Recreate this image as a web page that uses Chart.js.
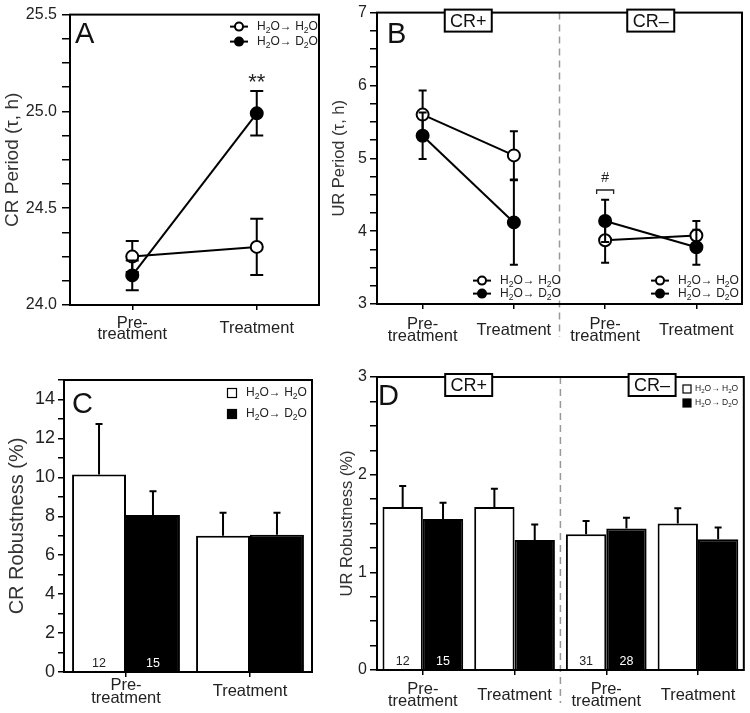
<!DOCTYPE html>
<html>
<head>
<meta charset="utf-8">
<script src="https://cdn.jsdelivr.net/npm/chart.js@4.4.1/dist/chart.umd.min.js"></script>
<style>
  body { margin: 0; background: #fff; }
  #wrap { position: relative; width: 750px; height: 713px; overflow: hidden; background: #fff; }
  canvas { position: absolute; }
</style>
</head>
<body>
<div id="wrap">
  <canvas id="chartA" width="375" height="355" style="left:0;top:0;width:375px;height:355px"></canvas>
  <canvas id="chartB" width="425" height="355" style="left:325px;top:0;width:425px;height:355px"></canvas>
  <canvas id="chartC" width="375" height="353" style="left:0;top:360px;width:375px;height:353px"></canvas>
  <canvas id="chartD" width="425" height="353" style="left:325px;top:360px;width:425px;height:353px"></canvas>
</div>
<script>
// categories / series names
const twoLabels = [['Pre-', 'treatment'], 'Treatment'];
const fourLabels = [['Pre-', 'treatment'], 'Treatment', ['Pre-', 'treatment'], 'Treatment'];
const seriesNames = ['H_2O→ H_2O', 'H_2O→ D_2O'];

// A: CR period (h)
const crPeriodH2O = [24.25, 24.30];
const crPeriodH2OErr = [0.08, 0.145];
const crPeriodD2O = [24.153, 24.99];
const crPeriodD2OErr = [0.077, 0.115];

// B: UR period (h), CR+ pre/treat, CR- pre/treat
const urPeriodH2O = [5.60, 5.04, 3.875, 3.94];
const urPeriodH2OErr = [0.33, 0.33, 0.31, 0.20];
const urPeriodD2O = [5.31, 4.12, 4.14, 3.78];
const urPeriodD2OErr = [0.32, 0.58, 0.29, 0.24];

// C: CR robustness (%)
const crRobH2O = [10.14, 7.0];
const crRobH2OErr = [2.6, 1.18];
const crRobD2O = [8.07, 7.05];
const crRobD2OErr = [1.21, 1.13];
const crRobNH2O = [12, null];
const crRobND2O = [15, null];

// D: UR robustness (%)
const urRobH2O = [1.67, 1.67, 1.39, 1.50];
const urRobH2OErr = [0.215, 0.185, 0.135, 0.157];
const urRobD2O = [1.545, 1.33, 1.45, 1.34];
const urRobD2OErr = [0.167, 0.16, 0.11, 0.12];
const urRobNH2O = [12, null, 31, null];
const urRobND2O = [15, null, 28, null];

const FONT = '"Liberation Sans", Arial, Helvetica, sans-serif';
const INK = '#000';
Chart.defaults.font.family = FONT;
Chart.defaults.color = '#222';
Chart.defaults.animation = false;

function isStep(v, every) {
    const r = v / every;
    return Math.abs(r - Math.round(r)) < 1e-6;
}

function yAxis(o) {
    return {
        min: o.min,
        max: o.max,
        border: { display: false },
        grid: { display: true, drawOnChartArea: false, drawTicks: true, tickLength: o.tickLen, color: INK, lineWidth: 1.5 },
        ticks: {
            stepSize: o.step,
            autoSkip: false,
            padding: o.pad,
            color: '#222',
            font: { size: o.tickSize },
            callback: v => isStep(v, o.every) ? v.toFixed(o.dec) : ''
        },
        title: { display: true, text: o.title, color: '#333', font: { size: o.titleSize }, padding: { top: o.titlePad, bottom: 0 } },
        afterFit: s => { s.width = o.width; }
    };
}

function xAxis(o) {
    return {
        offset: true,
        border: { display: false },
        grid: { display: true, drawOnChartArea: false, drawTicks: true, tickLength: 5, color: INK, lineWidth: 1.5, offset: false },
        ticks: { autoSkip: false, maxRotation: 0, padding: o.pad, crossAlign: 'center', color: '#222', font: { size: 16.5, lineHeight: o.lh } },
        afterFit: s => { s.height = o.height; }
    };
}

function lineSet(label, data, errors, fill, order, breakAfter) {
    return {
        label, data, errors, order,
        borderColor: INK, borderWidth: 2, backgroundColor: fill,
        pointRadius: 6, pointBorderWidth: 2, pointBackgroundColor: fill, pointBorderColor: INK,
        tension: 0,
        segment: { borderColor: c => c.p0DataIndex === breakAfter ? 'rgba(0,0,0,0)' : INK }
    };
}

function barSet(label, data, errors, counts, fill, countColor, pct) {
    return {
        label, data, errors, counts, countColor,
        backgroundColor: fill, borderColor: INK, borderWidth: 2, borderSkipped: 'start',
        barPercentage: 1, categoryPercentage: pct
    };
}

// error bars: both ways for points, upward only for bars
function drawErrors(chart, index, cap, upOnly) {
    const ds = chart.data.datasets[index];
    if (!ds.errors) return;
    const meta = chart.getDatasetMeta(index);
    const y = chart.scales.y;
    const ctx = chart.ctx;
    ctx.save();
    ctx.strokeStyle = INK;
    ctx.lineWidth = 2;
    ds.data.forEach((v, i) => {
        const e = ds.errors[i];
        if (v == null || e == null) return;
        const x = meta.data[i].x;
        const yTop = y.getPixelForValue(v + e);
        const yBot = y.getPixelForValue(upOnly ? v : v - e);
        ctx.beginPath();
        ctx.moveTo(x, yBot);
        ctx.lineTo(x, yTop);
        ctx.moveTo(x - cap / 2, yTop);
        ctx.lineTo(x + cap / 2, yTop);
        if (!upOnly) {
            ctx.moveTo(x - cap / 2, yBot);
            ctx.lineTo(x + cap / 2, yBot);
        }
        ctx.stroke();
    });
    ctx.restore();
}

const errorBars = {
    id: 'errorBars',
    beforeDatasetDraw(chart, args, opts) {
        if (chart.config.type === 'line') drawErrors(chart, args.index, opts.cap, false);
    },
    afterDatasetDraw(chart, args, opts) {
        if (chart.config.type === 'bar') drawErrors(chart, args.index, opts.cap, true);
    }
};

// text with "_" marking a subscript character
function richText(ctx, str, x, y, size) {
    let cx = x;
    ctx.textAlign = 'left';
    ctx.textBaseline = 'middle';
    for (let i = 0; i < str.length; i++) {
        let ch = str[i];
        let sub = false;
        if (ch === '_') { ch = str[++i]; sub = true; }
        ctx.font = (sub ? size * 0.72 : size) + 'px ' + FONT;
        ctx.fillText(ch, cx, y + (sub ? size * 0.3 : 0));
        cx += ctx.measureText(ch).width;
    }
}

const deco = {
    id: 'deco',
    afterDraw(chart, args, o) {
        const { ctx, chartArea: a } = chart;
        const x = chart.scales.x, y = chart.scales.y;
        ctx.save();

        // dashed divider between CR+ and CR-
        if (o.divider) {
            const dx = (x.getPixelForValue(1) + x.getPixelForValue(2)) / 2;
            ctx.strokeStyle = '#999';
            ctx.lineWidth = 1.5;
            ctx.setLineDash([7, 5]);
            ctx.beginPath();
            ctx.moveTo(dx, a.top);
            ctx.lineTo(dx, a.bottom + o.divider);
            ctx.stroke();
            ctx.setLineDash([]);
        }

        // frame
        ctx.strokeStyle = INK;
        ctx.lineWidth = 2;
        ctx.strokeRect(a.left, a.top, a.right - a.left, a.bottom - a.top);

        // group boxes
        (o.groups || []).forEach(g => {
            const cx = (x.getPixelForValue(g.from) + x.getPixelForValue(g.to)) / 2;
            const w = 47, h = 22, top = a.top - 3;
            ctx.fillStyle = '#fff';
            ctx.fillRect(cx - w / 2, top, w, h);
            ctx.strokeStyle = INK;
            ctx.lineWidth = 2;
            ctx.strokeRect(cx - w / 2, top, w, h);
            ctx.fillStyle = '#111';
            ctx.font = '18px ' + FONT;
            ctx.textAlign = 'center';
            ctx.textBaseline = 'middle';
            ctx.fillText(g.label, cx, top + h / 2 + 1);
        });

        // panel letter
        ctx.fillStyle = '#111';
        ctx.font = '29px ' + FONT;
        ctx.textAlign = 'left';
        ctx.textBaseline = 'alphabetic';
        ctx.fillText(o.letter, a.left + o.letterAt[0], a.top + o.letterAt[1]);

        // legends
        const L = o.legend;
        L.spots.forEach(([lx, ly]) => {
            seriesNames.forEach((name, k) => {
                const mx = a.left + lx, my = a.top + ly + k * L.gap;
                const fill = k === 0 ? '#fff' : '#000';
                ctx.strokeStyle = INK;
                if (L.kind === 'line') {
                    ctx.lineWidth = 2;
                    ctx.beginPath();
                    ctx.moveTo(mx - 9, my);
                    ctx.lineTo(mx + 9, my);
                    ctx.stroke();
                    ctx.beginPath();
                    ctx.arc(mx, my, 4, 0, Math.PI * 2);
                    ctx.fillStyle = fill;
                    ctx.fill();
                    ctx.stroke();
                } else {
                    ctx.lineWidth = 1.2;
                    ctx.fillStyle = fill;
                    ctx.fillRect(mx - L.box / 2, my - L.box / 2, L.box, L.box);
                    ctx.strokeRect(mx - L.box / 2, my - L.box / 2, L.box, L.box);
                }
                ctx.fillStyle = '#222';
                richText(ctx, name, mx + L.textDx, my, L.size);
            });
        });

        // significance marks
        (o.notes || []).forEach(n => {
            const px = x.getPixelForValue(n.x), py = y.getPixelForValue(n.y);
            ctx.fillStyle = '#222';
            ctx.font = n.size + 'px ' + FONT;
            ctx.textAlign = 'center';
            ctx.textBaseline = 'middle';
            ctx.fillText(n.text, px, py);
            if (n.bracket) {
                const by = y.getPixelForValue(n.bracket);
                ctx.strokeStyle = '#222';
                ctx.lineWidth = 1.3;
                ctx.beginPath();
                ctx.moveTo(px - 8.5, by + 4);
                ctx.lineTo(px - 8.5, by);
                ctx.lineTo(px + 8.5, by);
                ctx.lineTo(px + 8.5, by + 4);
                ctx.stroke();
            }
        });

        // sample sizes inside bars
        chart.data.datasets.forEach((ds, di) => {
            if (!ds.counts) return;
            const meta = chart.getDatasetMeta(di);
            ds.counts.forEach((n, i) => {
                if (n == null) return;
                ctx.fillStyle = ds.countColor;
                ctx.font = '12.5px ' + FONT;
                ctx.textAlign = 'center';
                ctx.textBaseline = 'middle';
                ctx.fillText(String(n), meta.data[i].x, a.bottom - 8);
            });
        });

        ctx.restore();
    }
};

function baseOptions(padding, scales, errCap, decoOpts) {
    return {
        responsive: false,
        animation: false,
        layout: { padding },
        scales,
        plugins: {
            legend: { display: false },
            tooltip: { enabled: false },
            errorBars: { cap: errCap },
            deco: decoOpts
        }
    };
}

// Panel A
new Chart(document.getElementById('chartA'), {
    type: 'line',
    data: {
        labels: twoLabels,
        datasets: [
            lineSet(seriesNames[0], crPeriodH2O, crPeriodH2OErr, '#fff', 1, -1),
            lineSet(seriesNames[1], crPeriodD2O, crPeriodD2OErr, '#000', 0, -1)
        ]
    },
    options: baseOptions(
        { top: 10, right: 56, left: 0, bottom: 0 },
        {
            x: xAxis({ pad: 13, lh: 0.7, height: 50 }),
            y: yAxis({ min: 24, max: 25.5, step: 0.125, every: 0.5, dec: 1, tickLen: 8, pad: 5, tickSize: 16,
                       title: 'CR Period (τ, h)', titleSize: 19, titlePad: 1, width: 70 })
        },
        13,
        {
            letter: 'A', letterAt: [5, 28],
            legend: { kind: 'line', spots: [[169, 12]], gap: 15, textDx: 18, size: 12 },
            notes: [{ text: '**', x: 1, y: 25.145, size: 22 }]
        }
    ),
    plugins: [errorBars, deco]
});

// Panel B
new Chart(document.getElementById('chartB'), {
    type: 'line',
    data: {
        labels: fourLabels,
        datasets: [
            lineSet(seriesNames[0], urPeriodH2O, urPeriodH2OErr, '#fff', 1, 1),
            lineSet(seriesNames[1], urPeriodD2O, urPeriodD2OErr, '#000', 0, 1)
        ]
    },
    options: baseOptions(
        { top: 10, right: 6, left: 0, bottom: 0 },
        {
            x: xAxis({ pad: 15, lh: 0.78, height: 51 }),
            y: yAxis({ min: 3, max: 7, step: 0.25, every: 1, dec: 0, tickLen: 7, pad: 3, tickSize: 16,
                       title: 'UR Period (τ, h)', titleSize: 16.5, titlePad: 5, width: 52 })
        },
        8,
        {
            letter: 'B', letterAt: [10, 30],
            divider: 33,
            groups: [{ label: 'CR+', from: 0, to: 1 }, { label: 'CR–', from: 2, to: 3 }],
            legend: { kind: 'line', spots: [[105, 268], [283, 268]], gap: 13, textDx: 18, size: 12 },
            notes: [{ text: '#', x: 2, y: 4.73, size: 14, bracket: 4.565 }]
        }
    ),
    plugins: [errorBars, deco]
});

// Panel C
new Chart(document.getElementById('chartC'), {
    type: 'bar',
    data: {
        labels: twoLabels,
        datasets: [
            barSet(seriesNames[0], crRobH2O, crRobH2OErr, crRobNH2O, '#fff', '#222', 0.87),
            barSet(seriesNames[1], crRobD2O, crRobD2OErr, crRobND2O, '#000', '#fff', 0.87)
        ]
    },
    options: baseOptions(
        { top: 20, right: 63, left: 0, bottom: 0 },
        {
            x: xAxis({ pad: 8, lh: 0.8, height: 41 }),
            y: yAxis({ min: 0, max: 15, step: 1, every: 2, dec: 0, tickLen: 6, pad: 3, tickSize: 18,
                       title: 'CR Robustness (%)', titleSize: 20, titlePad: 5, width: 64 })
        },
        7,
        {
            letter: 'C', letterAt: [8, 33],
            legend: { kind: 'box', spots: [[168, 13]], gap: 21, textDx: 14, size: 12, box: 9 }
        }
    ),
    plugins: [errorBars, deco]
});

// Panel D
new Chart(document.getElementById('chartD'), {
    type: 'bar',
    data: {
        labels: fourLabels,
        datasets: [
            barSet(seriesNames[0], urRobH2O, urRobH2OErr, urRobNH2O, '#fff', '#222', 0.88),
            barSet(seriesNames[1], urRobD2O, urRobD2OErr, urRobND2O, '#000', '#fff', 0.88)
        ]
    },
    options: baseOptions(
        { top: 17, right: 6, left: 0, bottom: 0 },
        {
            x: xAxis({ pad: 14, lh: 0.75, height: 43 }),
            y: yAxis({ min: 0, max: 3, step: 0.25, every: 1, dec: 0, tickLen: 7, pad: 3, tickSize: 16,
                       title: 'UR Robustness (%)', titleSize: 16.5, titlePad: 13, width: 52 })
        },
        7,
        {
            letter: 'D', letterAt: [1, 28],
            divider: 33,
            groups: [{ label: 'CR+', from: 0, to: 1 }, { label: 'CR–', from: 2, to: 3 }],
            legend: { kind: 'box', spots: [[310, 12]], gap: 14, textDx: 8, size: 8.5, box: 8 }
        }
    ),
    plugins: [errorBars, deco]
});
</script>
</body>
</html>
